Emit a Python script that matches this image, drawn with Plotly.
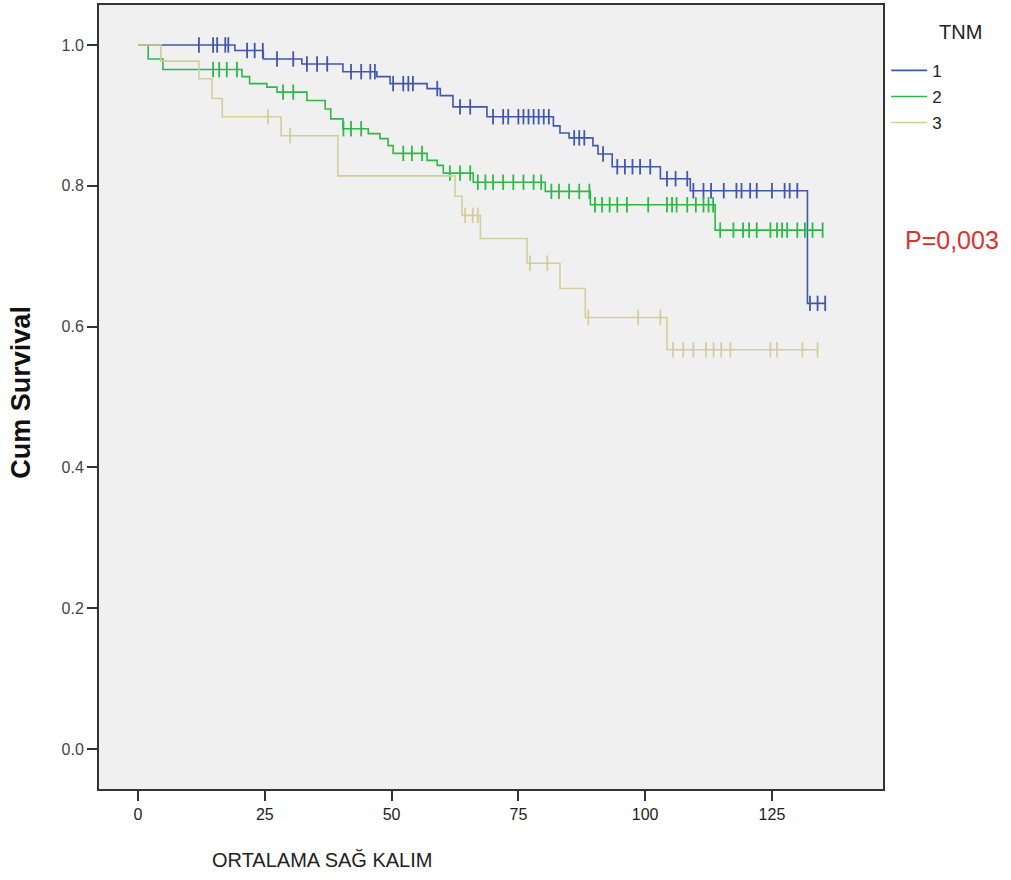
import numpy as np
import plotly.graph_objects as go

# ---- data ----
groups = ["1", "2", "3"]

t1_steps = [0, 19.1, 24.7, 32.3, 40.4, 47.1, 49.7, 57.0, 59.6, 62.1, 68.8, 81.9, 83.2, 85.0, 89.7, 90.7, 93.5, 103.0, 108.9, 132.0]
s1_steps = [1.0, 0.992, 0.980, 0.973, 0.962, 0.955, 0.945, 0.938, 0.928, 0.912, 0.898, 0.885, 0.875, 0.868, 0.857, 0.845, 0.827, 0.810, 0.793, 0.633]
t1_end = 135.5
t1_cens = [12, 14.8, 15.6, 17.2, 17.8, 21.5, 23, 24.6, 27.4, 30.6, 33.3, 35.3, 37.3, 42, 44, 45.8, 46.7,
           50.3, 52.3, 53.3, 54.2, 59, 63.5, 65.5, 70, 72, 73, 75, 76, 77, 78, 79, 80, 81,
           86, 87, 88, 91.7, 94.5, 96, 97.5, 99, 101, 104.3, 106, 108.3, 109.5, 111.5, 113,
           115.5, 118, 119, 120.7, 122, 125, 127.5, 128.5, 130, 132.5, 134, 135.5]

t2_steps = [0, 2.0, 4.9, 20.5, 22.0, 25.4, 27.4, 33.3, 36.9, 38.0, 40.4, 45.4, 47.7, 49.3, 50.3, 57.0, 59.0, 60.2, 66.1, 80.3, 89.2, 113.8]
s2_steps = [1.0, 0.980, 0.965, 0.955, 0.945, 0.940, 0.933, 0.921, 0.909, 0.895, 0.881, 0.874, 0.867, 0.857, 0.846, 0.836, 0.829, 0.818, 0.805, 0.792, 0.773, 0.737]
t2_end = 135.0
t2_cens = [14.8, 16, 17.5, 19.5, 28.6, 30.6, 40.5, 42, 44, 52.3, 54, 56, 61.5, 63.5, 65.5,
           67, 68.5, 70, 72, 74, 76, 78, 79.5, 81.5, 83, 85, 87, 89, 90.1, 91.5, 93, 94.5,
           96.4, 100.6, 104.3, 105.3, 106.2, 108.3, 110, 111.5, 112.5, 113.4, 114.8, 117.4,
           119.3, 120.5, 122, 124.7, 126, 127, 128, 130, 131.5, 133, 135]

t3_steps = [0, 4.5, 12.0, 14.6, 16.6, 28.2, 39.4, 62.5, 63.9, 67.5, 76.7, 83.2, 88.2, 104.3]
s3_steps = [1.0, 0.977, 0.952, 0.924, 0.898, 0.871, 0.814, 0.785, 0.758, 0.725, 0.690, 0.654, 0.613, 0.567]
t3_end = 134.0
t3_cens = [25.6, 30.0, 64.5, 66.0, 67.0, 77.3, 80.7, 88.8, 98.6, 103.0, 105.5, 107.5, 109.5,
           112.0, 113.5, 115.0, 116.8, 124.7, 126.0, 131.0, 134.0]

x_ticks = [0, 25, 50, 75, 100, 125]
y_ticks = [0, 0.2, 0.4, 0.6, 0.8, 1.0]

colors = ["#3E58AC", "#2EB848", "#D3CE97"]

series = [
    (t1_steps, s1_steps, t1_end, t1_cens),
    (t2_steps, s2_steps, t2_end, t2_cens),
    (t3_steps, s3_steps, t3_end, t3_cens),
]

fig = go.Figure()

for name, color, (ts, ss, tend, tc) in zip(groups, colors, series):
    xs = list(ts) + [tend]
    ys = list(ss) + [ss[-1]]
    fig.add_trace(go.Scatter(
        x=xs, y=ys, mode="lines", line=dict(color=color, width=1.6, shape="hv"),
        name=name, legendgroup=name, showlegend=True, hoverinfo="skip"))
    ts_arr = np.array(ts)
    ss_arr = np.array(ss)
    idx = np.searchsorted(ts_arr, np.array(tc), side="right") - 1
    cy = ss_arr[idx]
    fig.add_trace(go.Scatter(
        x=tc, y=cy, mode="markers",
        marker=dict(symbol="line-ns-open", size=11, color=color,
                    line=dict(color=color, width=1.8)),
        name=name, legendgroup=name, showlegend=False))

sans = "Liberation Sans, Arial"

fig.update_layout(
    width=1011, height=880,
    margin=dict(l=99, r=128, t=3, b=91),
    paper_bgcolor="white",
    plot_bgcolor="#f0f0f0",
    showlegend=True,
    legend=dict(
        x=1.004, xanchor="left", y=0.939, yanchor="top",
        font=dict(size=17, color="#222", family=sans),
        bgcolor="rgba(0,0,0,0)", itemwidth=36, tracegroupgap=1,
    ),
    xaxis=dict(
        range=[-7.7, 146.9], tickvals=x_ticks,
        ticks="outside", ticklen=10, tickwidth=2, tickcolor="#333",
        showline=True, linecolor="#333", linewidth=2, mirror=True,
        showgrid=False, zeroline=False,
        tickfont=dict(size=16, color="#222", family=sans),
    ),
    yaxis=dict(
        range=[-0.0567, 1.0567], tickvals=y_ticks, tickformat=".1f",
        ticks="outside", ticklen=10, tickwidth=2, tickcolor="#333",
        showline=True, linecolor="#333", linewidth=2, mirror=True,
        showgrid=False, zeroline=False,
        tickfont=dict(size=16, color="#444", family=sans),
    ),
    annotations=[
        dict(text="TNM", xref="paper", yref="paper", x=1.0686, y=0.966,
             xanchor="left", yanchor="middle", showarrow=False,
             font=dict(size=20, color="#222", family=sans)),
        dict(text="ORTALAMA SAĞ KALIM", xref="paper", yref="paper", x=0.284, y=-0.09,
             xanchor="center", yanchor="middle", showarrow=False,
             font=dict(size=20, color="#222", family=sans)),
        dict(text="<b>Cum Survival</b>", xref="paper", yref="paper", x=-0.099, y=0.506,
             xanchor="center", yanchor="middle", showarrow=False, textangle=-90,
             font=dict(size=27, color="#111", family=sans)),
        dict(text="P=0,003", xref="paper", yref="paper", x=1.025, y=0.7005,
             xanchor="left", yanchor="middle", showarrow=False,
             font=dict(size=25, color="#e0302f", family=sans)),
    ],
)

fig.write_html("out.html")
